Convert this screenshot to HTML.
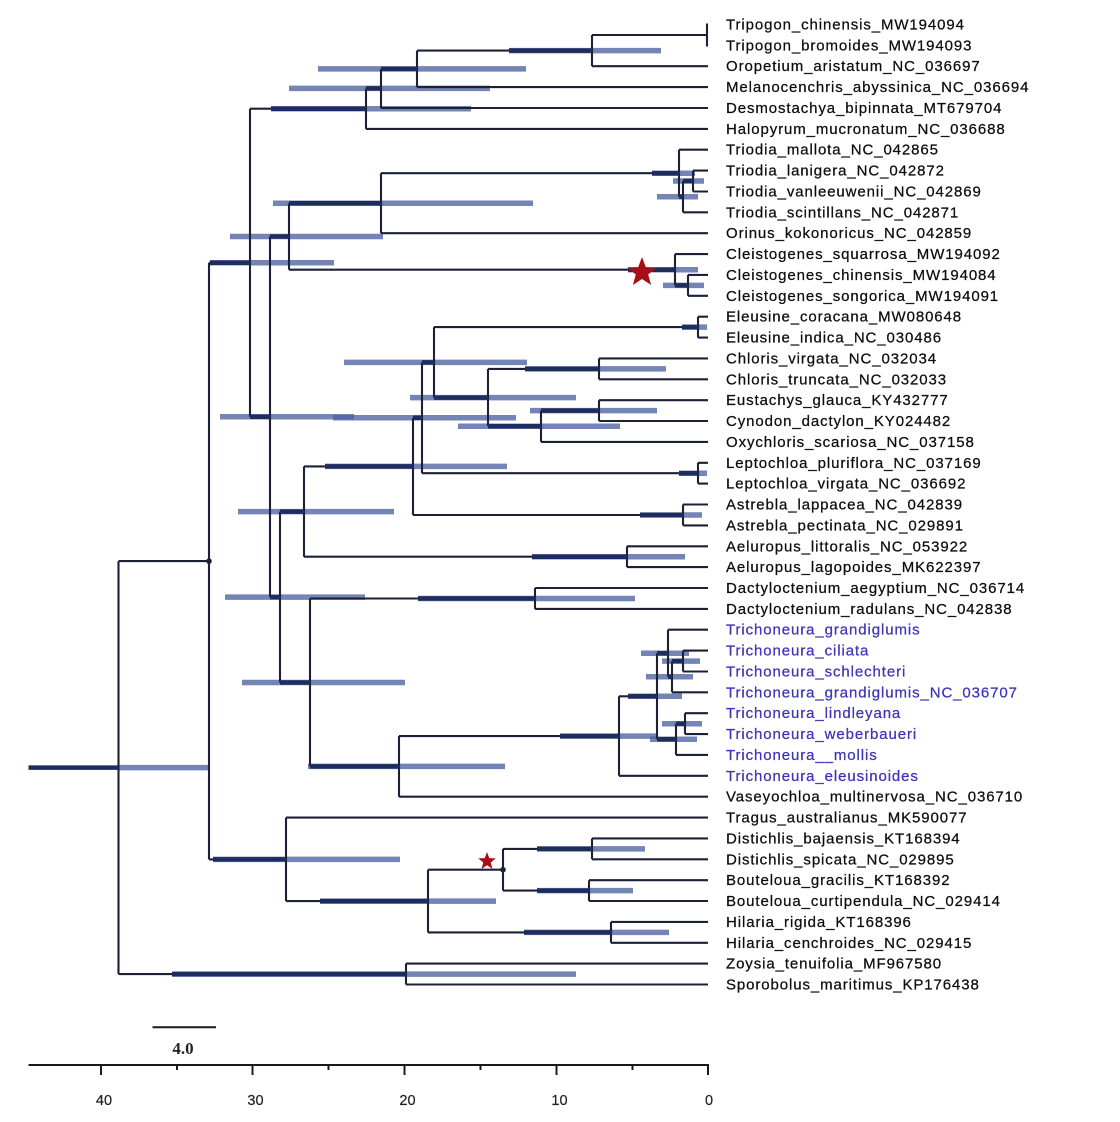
<!DOCTYPE html>
<html>
<head>
<meta charset="utf-8">
<style>
html,body{margin:0;padding:0;background:#ffffff;}
svg{display:block;}
.br{fill:none;stroke:#1d2138;stroke-width:2.1;}
.lb{fill:none;stroke:rgb(75,98,160);stroke-opacity:0.78;stroke-width:5.5;}
.dk{fill:none;stroke:#1f2c5e;stroke-width:4.5;}
.lab{font-family:"Liberation Sans",Arial,sans-serif;font-size:15px;letter-spacing:0.9px;fill:#0d0d0d;stroke:#0d0d0d;stroke-width:0.25px;}
.tri{fill:#3d34b8;stroke:#3d34b8;}
.tick{font-family:"Liberation Sans",Arial,sans-serif;font-size:14.5px;fill:#222;text-anchor:middle;stroke:#222;stroke-width:0.2px;}
</style>
</head>
<body>
<svg width="1120" height="1122" viewBox="0 0 1120 1122" xmlns="http://www.w3.org/2000/svg">
<rect x="0" y="0" width="1120" height="1122" fill="#ffffff"/>

<!-- light HPD bars -->
<g class="lb">
<path d="M509 50.6H661"/><path d="M318 68.9H526"/><path d="M289 88.4H490"/><path d="M271 108.7H471"/>
<path d="M210 262.8H334"/><path d="M273 203.2H533"/><path d="M230 236.5H383"/><path d="M220 416.8H354"/>
<path d="M652 173.2H695"/><path d="M657 196.7H698"/><path d="M673 181H704"/><path d="M628 269.7H698"/>
<path d="M663 285.4H704"/><path d="M682 327.1H707"/><path d="M333 417.8H516"/><path d="M344 362.4H527"/>
<path d="M410 397.6H576"/><path d="M525 368.9H666"/><path d="M458 426.3H620"/><path d="M530 410.6H657"/>
<path d="M679 473.2H707"/><path d="M325 466.4H507"/><path d="M640 515H702"/><path d="M238 511.6H394"/>
<path d="M532 556.7H685"/><path d="M225 597.1H365"/><path d="M418 598.5H635"/><path d="M242 682.5H405"/>
<path d="M308 766.4H505"/><path d="M560 736.1H657"/><path d="M628 696.3H682"/><path d="M641 653.2H689"/>
<path d="M662 661.1H700"/><path d="M646 676.7H693"/><path d="M662 723.7H702"/><path d="M650 739.3H697"/>
<path d="M213 859.4H400"/><path d="M320 901.1H496"/><path d="M537 848.9H645"/><path d="M537 890.6H633"/>
<path d="M524 932.4H669"/><path d="M172 974.1H576"/><path d="M118.5 767.6H210"/>
</g>

<!-- branches -->
<path class="br" d="
M706 24.5H708 M706 45.4H708 M592 66.2H708 M417 87.1H708 M381 108H708 M366 128.9H708
M679 149.7H708 M693 170.6H708 M693 191.5H708 M683 212.3H708 M381 233.2H708
M675 254.1H708 M688 274.9H708 M688 295.8H708 M698 316.7H708 M698 337.6H708
M599 358.4H708 M599 379.3H708 M599 400.2H708 M599 421H708 M541 441.9H708
M698 462.8H708 M698 483.6H708 M683 504.5H708 M683 525.4H708 M627 546.3H708
M627 567.1H708 M535 588H708 M535 608.9H708 M668 629.7H708 M683 650.6H708
M683 671.5H708 M672 692.3H708 M685 713.2H708 M685 734.1H708 M676 754.9H708
M619 775.8H708 M399 796.7H708 M286 817.6H708 M592 838.4H708 M592 859.3H708
M589 880.2H708 M589 901H708 M611 921.9H708 M611 942.8H708 M406 963.6H708 M406 984.5H708
M592 35H707 M417 50.6H592 M381 68.9H417 M366 88.4H381 M250 108.7H366
M683 181H693 M679 196.7H683 M381 173.2H679 M289 203.2H381 M675 285.4H688
M289 269.7H675 M270 236.5H289 M434 327.1H698 M488 368.9H599 M541 410.6H599
M488 426.3H541 M434 397.6H488 M422 362.4H434 M422 473.2H698 M413 417.8H422
M413 515H683 M304 466.4H413 M304 556.7H627 M280 511.6H304 M310 598.5H535
M672 661.1H683 M668 676.7H672 M657 653.2H668 M676 723.7H685 M657 739.3H676
M619 696.3H657 M399 736.1H619 M310 766.4H399 M280 682.5H310 M270 597.1H280
M250 416.8H270 M209 262.8H250 M503 848.9H592 M503 890.6H589 M428 869.7H503
M428 932.4H611 M286 901.1H428 M209 859.4H286 M118.5 561.1H209 M118.5 974.1H406
M707 24.5V45.4 M592 35V66.2 M417 50.6V87.1 M381 68.9V108 M366 88.4V128.9
M693 170.6V191.5 M683 181V212.3 M679 149.7V196.7 M381 173.2V233.2
M688 274.9V295.8 M675 254.1V285.4 M289 203.2V269.7 M698 316.7V337.6
M599 358.4V379.3 M599 400.2V421 M541 410.6V441.9 M488 368.9V426.3 M434 327.1V397.6
M698 462.8V483.6 M422 362.4V473.2 M683 504.5V525.4 M413 417.8V515 M627 546.3V567.1
M304 466.4V556.7 M535 588V608.9 M683 650.6V671.5 M672 661.1V692.3 M668 629.7V676.7
M685 713.2V734.1 M676 723.7V754.9 M657 653.2V739.3 M619 696.3V775.8 M399 736.1V796.7
M310 598.5V766.4 M280 511.6V682.5 M270 236.5V597.1 M250 108.7V416.8
M592 838.4V859.3 M589 880.2V901 M503 848.9V890.6 M611 921.9V942.8 M428 869.7V932.4
M286 817.6V901.1 M209 262.8V859.4 M406 963.6V984.5 M118.5 561.1V974.1"/>

<!-- dark overlapped segments -->
<path class="dk" d="
M509 50.6H592 M381 68.9H417 M366 88.4H381 M271 108.7H366 M210 262.8H250
M289 203.2H381 M270 236.5H289 M250 416.8H270 M652 173.2H679 M679 196.7H683
M683 181H693 M628 269.7H675 M675 285.4H688 M682 327.1H698 M413 417.8H422
M422 362.4H434 M434 397.6H488 M525 368.9H599 M488 426.3H541 M541 410.6H599
M679 473.2H698 M325 466.4H413 M640 515H683 M280 511.6H304 M532 556.7H627
M270 597.1H280 M418 598.5H535 M280 682.5H310 M310 766.4H399 M560 736.1H619
M628 696.3H657 M657 653.2H668 M672 661.1H683 M668 676.7H672 M676 723.7H685
M657 739.3H676 M213 859.4H286 M320 901.1H428 M537 848.9H592 M537 890.6H589
M524 932.4H611 M172 974.1H406 M28.5 767.6H118.5"/>

<circle cx="209" cy="561.1" r="2.8" fill="#1d2138"/>
<circle cx="503" cy="869.7" r="2.8" fill="#1d2138"/>

<!-- stars -->
<polygon fill="#a50f15" transform="translate(642,272.5) scale(15.5)" points="0,-1 0.2469,-0.3398 0.9511,-0.309 0.3995,0.1298 0.5878,0.809 0,0.42 -0.5878,0.809 -0.3995,0.1298 -0.9511,-0.309 -0.2469,-0.3398"/>
<polygon fill="#a50f15" transform="translate(487,861.3) scale(9.3)" points="0,-1 0.2469,-0.3398 0.9511,-0.309 0.3995,0.1298 0.5878,0.809 0,0.42 -0.5878,0.809 -0.3995,0.1298 -0.9511,-0.309 -0.2469,-0.3398"/>

<!-- taxon labels -->
<g class="lab">
<text x="726" y="29.5">Tripogon_chinensis_MW194094</text>
<text x="726" y="50.4">Tripogon_bromoides_MW194093</text>
<text x="726" y="71.2">Oropetium_aristatum_NC_036697</text>
<text x="726" y="92.1">Melanocenchris_abyssinica_NC_036694</text>
<text x="726" y="113">Desmostachya_bipinnata_MT679704</text>
<text x="726" y="133.9">Halopyrum_mucronatum_NC_036688</text>
<text x="726" y="154.7">Triodia_mallota_NC_042865</text>
<text x="726" y="175.6">Triodia_lanigera_NC_042872</text>
<text x="726" y="196.5">Triodia_vanleeuwenii_NC_042869</text>
<text x="726" y="217.3">Triodia_scintillans_NC_042871</text>
<text x="726" y="238.2">Orinus_kokonoricus_NC_042859</text>
<text x="726" y="259.1">Cleistogenes_squarrosa_MW194092</text>
<text x="726" y="279.9">Cleistogenes_chinensis_MW194084</text>
<text x="726" y="300.8">Cleistogenes_songorica_MW194091</text>
<text x="726" y="321.7">Eleusine_coracana_MW080648</text>
<text x="726" y="342.6">Eleusine_indica_NC_030486</text>
<text x="726" y="363.4">Chloris_virgata_NC_032034</text>
<text x="726" y="384.3">Chloris_truncata_NC_032033</text>
<text x="726" y="405.2">Eustachys_glauca_KY432777</text>
<text x="726" y="426">Cynodon_dactylon_KY024482</text>
<text x="726" y="446.9">Oxychloris_scariosa_NC_037158</text>
<text x="726" y="467.8">Leptochloa_pluriflora_NC_037169</text>
<text x="726" y="488.6">Leptochloa_virgata_NC_036692</text>
<text x="726" y="509.5">Astrebla_lappacea_NC_042839</text>
<text x="726" y="530.4">Astrebla_pectinata_NC_029891</text>
<text x="726" y="551.3">Aeluropus_littoralis_NC_053922</text>
<text x="726" y="572.1">Aeluropus_lagopoides_MK622397</text>
<text x="726" y="593">Dactyloctenium_aegyptium_NC_036714</text>
<text x="726" y="613.9">Dactyloctenium_radulans_NC_042838</text>
<text x="726" y="634.7" class="tri">Trichoneura_grandiglumis</text>
<text x="726" y="655.6" class="tri">Trichoneura_ciliata</text>
<text x="726" y="676.5" class="tri">Trichoneura_schlechteri</text>
<text x="726" y="697.3" class="tri">Trichoneura_grandiglumis_NC_036707</text>
<text x="726" y="718.2" class="tri">Trichoneura_lindleyana</text>
<text x="726" y="739.1" class="tri">Trichoneura_weberbaueri</text>
<text x="726" y="759.9" class="tri">Trichoneura__mollis</text>
<text x="726" y="780.8" class="tri">Trichoneura_eleusinoides</text>
<text x="726" y="801.7">Vaseyochloa_multinervosa_NC_036710</text>
<text x="726" y="822.6">Tragus_australianus_MK590077</text>
<text x="726" y="843.4">Distichlis_bajaensis_KT168394</text>
<text x="726" y="864.3">Distichlis_spicata_NC_029895</text>
<text x="726" y="885.2">Bouteloua_gracilis_KT168392</text>
<text x="726" y="906">Bouteloua_curtipendula_NC_029414</text>
<text x="726" y="926.9">Hilaria_rigida_KT168396</text>
<text x="726" y="947.8">Hilaria_cenchroides_NC_029415</text>
<text x="726" y="968.6">Zoysia_tenuifolia_MF967580</text>
<text x="726" y="989.5">Sporobolus_maritimus_KP176438</text>
</g>

<!-- scale bar -->
<path d="M152.5 1027.3H216" stroke="#1a1a1a" stroke-width="2" fill="none"/>
<text x="183" y="1054" text-anchor="middle" style="font-family:'Liberation Serif',serif;font-weight:bold;font-size:17px;fill:#222;">4.0</text>

<!-- axis -->
<path d="M28.5 1065H709" stroke="#1a1a1a" stroke-width="2" fill="none"/>
<path d="M101 1065V1075 M252.5 1065V1075 M404.5 1065V1075 M556.5 1065V1075 M708 1065V1075 M177 1065V1070 M328.5 1065V1070 M480.5 1065V1070 M632.5 1065V1070" stroke="#1a1a1a" stroke-width="2" fill="none"/>
<text class="tick" x="104" y="1105">40</text>
<text class="tick" x="255.5" y="1105">30</text>
<text class="tick" x="407.5" y="1105">20</text>
<text class="tick" x="559.5" y="1105">10</text>
<text class="tick" x="709" y="1105">0</text>
</svg>
</body>
</html>
